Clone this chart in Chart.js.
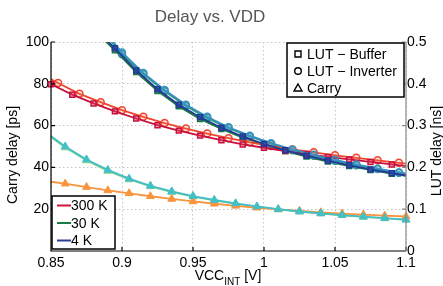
<!DOCTYPE html>
<html><head><meta charset="utf-8">
<script src="https://cdn.jsdelivr.net/npm/chart.js@4.4.0/dist/chart.umd.min.js"></script>
<style>html,body{margin:0;padding:0;background:#fff}</style>
</head><body>
<canvas id="myChart" width="443" height="286"></canvas>
<script>
// supply voltage (V) for each marker family
const vBuffer = [0.85,0.865,0.88,0.895,0.91,0.925,0.94,0.955,0.97,0.985,1.0,1.015,1.03,1.045,1.06,1.075,1.09,1.105];
const vInverter = [0.84,0.855,0.87,0.885,0.9,0.915,0.93,0.945,0.96,0.975,0.99,1.005,1.02,1.035,1.05,1.065,1.08,1.095,1.11];
const vCarry = [0.845,0.86,0.875,0.89,0.905,0.92,0.935,0.95,0.965,0.98,0.995,1.01,1.025,1.04,1.055,1.07,1.085,1.1];

// LUT delay [ns]
const buf300 = [0.399,0.374,0.353,0.334,0.317,0.301,0.288,0.276,0.265,0.255,0.247,0.239,0.232,0.225,0.219,0.213,0.207,0.201];
const buf30  = [0.700,0.615,0.530,0.480,0.428,0.383,0.346,0.316,0.292,0.271,0.254,0.239,0.226,0.214,0.203,0.194,0.185,0.177];
const buf4   = [0.705,0.620,0.535,0.485,0.432,0.387,0.350,0.320,0.295,0.274,0.256,0.241,0.228,0.216,0.205,0.195,0.186,0.178];
const inv300 = [0.429,0.402,0.376,0.356,0.337,0.321,0.306,0.293,0.281,0.270,0.260,0.251,0.243,0.236,0.229,0.223,0.217,0.211,0.205];
const inv30  = [0.785,0.685,0.600,0.531,0.471,0.423,0.382,0.347,0.318,0.294,0.274,0.256,0.241,0.228,0.216,0.205,0.196,0.187,0.179];
const inv4   = [0.790,0.690,0.605,0.535,0.475,0.426,0.385,0.350,0.321,0.296,0.276,0.258,0.243,0.230,0.218,0.207,0.197,0.188,0.180];

// carry delay [ps]
const carry300 = [33.6,32.2,30.6,29.0,27.6,26.2,24.9,23.7,22.6,21.6,20.7,19.9,19.2,18.5,17.9,17.4,16.9,16.5];
const carry30  = [57.0,49.5,43.3,38.3,34.2,30.9,28.2,26.0,24.2,22.6,21.2,19.9,18.8,17.9,17.1,16.3,15.6,14.9];
const carry4   = [57.5,50.0,43.8,38.8,34.6,31.2,28.5,26.3,24.4,22.8,21.3,20.0,18.9,18.0,17.2,16.4,15.7,15.0];

const xTicks = [0.85,0.9,0.95,1,1.05,1.1];
const leftTicks = [20,40,60,80,100];
const rightTicks = [0,0.1,0.2,0.3,0.4,0.5];

const tempLabels = ['300 K','30 K','4 K'];
const tempColors = ['#d0143c','#1a7a48','#2b3d96'];
const markerLabels = ['LUT \u2212 Buffer','LUT \u2212 Inverter','Carry'];
const markerShapes = ['rect','circle','triangle'];

const FONT = '"Liberation Sans", Arial, sans-serif';

function pts(xs, ys){ return xs.map((x,i)=>({x:x, y:ys[i]})); }

function lutSet(xs, ys, color, fill, shape, order){
  return {
    data: pts(xs, ys), yAxisID: 'yR', borderColor: color, backgroundColor: fill,
    pointStyle: shape, pointRadius: 3.5, pointBorderWidth: 1.5,
    borderWidth: 1.8, order: order,
    clip: shape=='rect' ? {left:8, top:0, right:0, bottom:8} : {left:0, top:0, right:0, bottom:8}
  };
}
function carrySet(ys, color, order){
  return {
    data: pts(vCarry, ys), yAxisID: 'y', borderColor: color, backgroundColor: color,
    pointStyle: 'triangle', pointRadius: 4.5, pointBorderWidth: 1,
    borderWidth: 1.8, order: order, clip: {left:0, top:0, right:8, bottom:8}
  };
}

const datasets = [
  lutSet(vBuffer, buf30, '#1a7a40', 'rgba(26,122,64,0.5)', 'rect', 6),
  lutSet(vInverter, inv30, '#2a9a78', 'rgba(42,154,120,0.25)', 'circle', 6),
  carrySet(carry30, '#86d08a', 6),
  lutSet(vBuffer, buf300, '#c8103c', 'rgba(220,60,100,0.45)', 'rect', 3),
  lutSet(vInverter, inv300, '#f0442c', 'rgba(250,120,100,0.2)', 'circle', 3),
  carrySet(carry300, '#f8943e', 3),
  lutSet(vBuffer, buf4, '#213a96', 'rgba(40,70,170,0.6)', 'rect', 1),
  lutSet(vInverter, inv4, '#3590c2', 'rgba(70,160,210,0.3)', 'circle', 1),
  carrySet(carry4, '#43bfc7', 1)
];

const decor = {
  id: 'decor',
  afterDraw(chart){
    const ctx = chart.ctx;
    const a = chart.chartArea;
    const sx = chart.scales.x, sy = chart.scales.y, sr = chart.scales.yR;
    ctx.save();
    // axis lines and inward ticks
    ctx.lineWidth = 1.2;
    ctx.strokeStyle = '#000';
    ctx.beginPath();
    ctx.moveTo(a.left, a.top); ctx.lineTo(a.left, a.bottom); ctx.lineTo(a.right, a.bottom);
    leftTicks.forEach(v=>{ const y = sy.getPixelForValue(v); ctx.moveTo(a.left, y); ctx.lineTo(a.left+4, y); });
    xTicks.forEach(v=>{ const x = sx.getPixelForValue(v); ctx.moveTo(x, a.bottom); ctx.lineTo(x, a.bottom-4); });
    ctx.stroke();
    ctx.strokeStyle = '#8a8a8a';
    ctx.beginPath();
    ctx.moveTo(a.right, a.top); ctx.lineTo(a.right, a.bottom);
    rightTicks.forEach(v=>{ const y = sr.getPixelForValue(v); ctx.moveTo(a.right, y); ctx.lineTo(a.right-4, y); });
    ctx.stroke();

    // title
    ctx.fillStyle = '#555';
    ctx.font = '17px ' + FONT;
    ctx.textAlign = 'center'; ctx.textBaseline = 'middle';
    ctx.fillText('Delay vs. VDD', 210, 17);

    // axis titles
    ctx.fillStyle = '#000';
    ctx.font = '14px ' + FONT;
    ctx.save(); ctx.translate(13, 155); ctx.rotate(-Math.PI/2); ctx.fillText('Carry delay [ps]', 0, 0); ctx.restore();
    ctx.save(); ctx.translate(437, 151); ctx.rotate(-Math.PI/2); ctx.fillText('LUT delay [ns]', 0, 0); ctx.restore();

    ctx.textAlign = 'left'; ctx.textBaseline = 'alphabetic';
    const w1 = ctx.measureText('VCC').width;
    ctx.font = '10px ' + FONT;
    const w2 = ctx.measureText('INT').width;
    ctx.font = '14px ' + FONT;
    const w3 = ctx.measureText(' [V]').width;
    let x0 = 228 - (w1+w2+w3)/2;
    ctx.fillText('VCC', x0, 280);
    ctx.font = '10px ' + FONT;
    ctx.fillText('INT', x0+w1, 285);
    ctx.font = '14px ' + FONT;
    ctx.fillText(' [V]', x0+w1+w2, 280);

    // marker legend (top right)
    ctx.fillStyle = '#fff'; ctx.strokeStyle = '#000'; ctx.lineWidth = 1.5;
    ctx.fillRect(287, 43, 117, 54); ctx.strokeRect(287, 43, 117, 54);
    ctx.fillStyle = '#000'; ctx.textBaseline = 'middle';
    markerLabels.forEach((lab,i)=>{
      const y = 54 + i*17;
      ctx.lineWidth = 1.4;
      ctx.beginPath();
      if (markerShapes[i]=='rect') ctx.rect(295, y-3, 6, 6);
      else if (markerShapes[i]=='circle') ctx.arc(298, y, 3.3, 0, Math.PI*2);
      else { ctx.moveTo(298, y-4); ctx.lineTo(302, y+3); ctx.lineTo(294, y+3); ctx.closePath(); }
      ctx.stroke();
      ctx.fillText(lab, 307, y+1);
    });

    // temperature legend (bottom left)
    ctx.fillStyle = '#fff'; ctx.lineWidth = 1.5; ctx.strokeStyle = '#000';
    ctx.fillRect(52, 196, 63, 53); ctx.strokeRect(52, 196, 63, 53);
    tempLabels.forEach((lab,i)=>{
      const y = 205.5 + i*17.5;
      ctx.strokeStyle = tempColors[i]; ctx.lineWidth = 2;
      ctx.beginPath(); ctx.moveTo(57, y); ctx.lineTo(71, y); ctx.stroke();
      ctx.fillStyle = '#000';
      ctx.fillText(lab, 71, y+1);
    });
    ctx.restore();
  }
};

const ctx = document.getElementById('myChart').getContext('2d');
const myChart = new Chart(ctx, {
  type: 'line',
  data: { datasets: datasets },
  plugins: [decor],
  options: {
    responsive: false,
    devicePixelRatio: 1,
    animation: false,
    layout: { padding: { top: 42, left: 0, right: 0, bottom: 0 } },
    plugins: { legend: { display: false }, tooltip: { enabled: false } },
    scales: {
      x: {
        type: 'linear', min: 0.85, max: 1.1,
        afterBuildTicks: s => { s.ticks = xTicks.map(v=>({value:v})); },
        afterFit: s => { s.height = 35; },
        ticks: { padding: 4, color: '#000', font: { family: FONT, size: 14 },
                 callback: v => String(Number(v.toFixed(2))) },
        grid: { color: '#c4c4c4', lineWidth: 1, drawTicks: false },
        border: { display: false, dash: [1.5, 2.5] }
      },
      y: {
        position: 'left', min: 0, max: 100,
        afterBuildTicks: s => { s.ticks = leftTicks.map(v=>({value:v})); },
        afterFit: s => { s.width = 51; },
        ticks: { padding: 2, color: '#000', font: { family: FONT, size: 14 } },
        grid: { color: '#c4c4c4', lineWidth: 1, drawTicks: false },
        border: { display: false, dash: [1.5, 2.5] }
      },
      yR: {
        position: 'right', min: 0, max: 0.5,
        afterBuildTicks: s => { s.ticks = rightTicks.map(v=>({value:v})); },
        afterFit: s => { s.width = 37; },
        ticks: { padding: 1, color: '#000', font: { family: FONT, size: 14 },
                 callback: v => String(Number(v.toFixed(1))) },
        grid: { display: false, drawTicks: false },
        border: { display: false }
      }
    }
  }
});
</script>
</body></html>
